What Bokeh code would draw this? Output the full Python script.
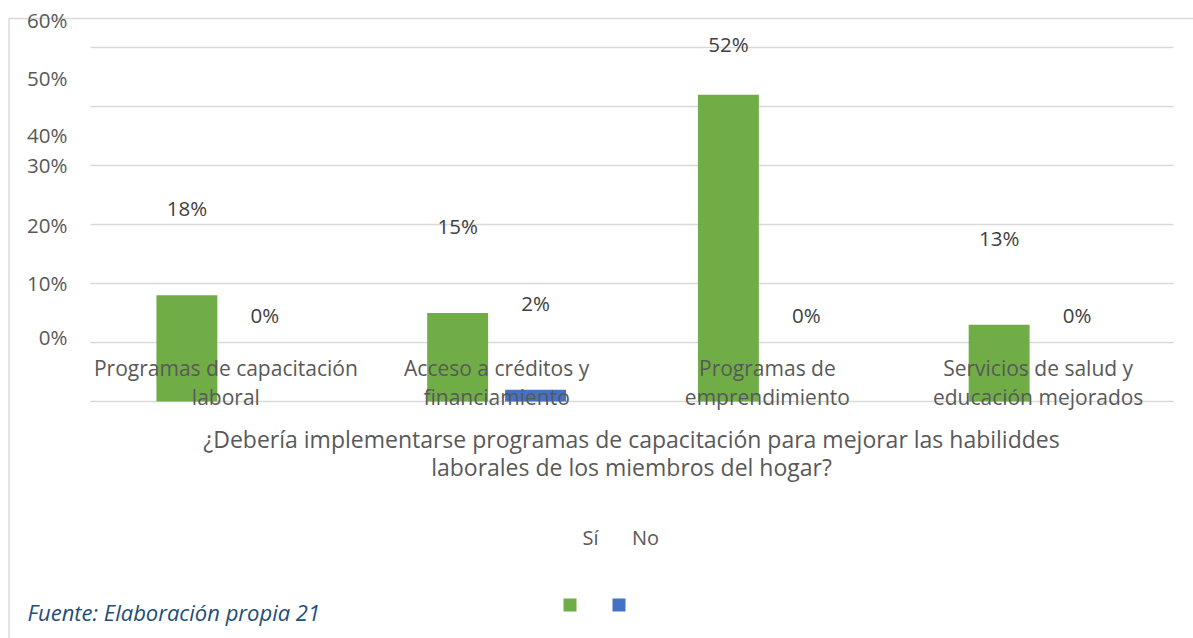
from bokeh.plotting import figure
from bokeh.models import Range1d
from bokeh.embed import file_html
from bokeh.resources import INLINE
from bokeh.core.properties import value

# ---------------- data ----------------
categories = [
    "Programas de capacitación\nlaboral",
    "Acceso a créditos y\nfinanciamiento",
    "Programas de\nemprendimiento",
    "Servicios de salud y\neducación mejorados",
]
si_values = [0.18, 0.15, 0.52, 0.13]
no_values = [0.00, 0.02, 0.00, 0.00]
series_names = ["Sí", "No"]
series_colors = ["#70AD47", "#4472C4"]
grid_values = [0.0, 0.1, 0.2, 0.3, 0.4, 0.5, 0.6]
y_tick_labels = ["0%", "10%", "20%", "30%", "40%", "50%", "60%"]
axis_title = [
    "¿Debería implementarse programas de capacitación para mejorar las habiliddes",
    "laborales de los miembros del hogar?",
]
source_note = "Fuente: Elaboración propia 21"

# ---------------- layout (page pixels) ----------------
W, H = 1193, 638
PAGE = 0
GL, GR = 90, 1173          # grid left/right
Y0, YT = 401, 47           # zero line / top gridline
n = len(categories)
CW = (GR - GL) / n
PPU = (Y0 - YT) / max(grid_values)
BAR_W = 0.225
DODGE = 0.144
FONT = "Open Sans"
TXT = "#595959"
LBL = "#404040"
GRID = "#D9D9D9"


def ux(px):
    return (px - GL) / CW


def vy(py):
    return (Y0 - py) / PPU


p = figure(
    width=W, height=H,
    x_range=Range1d(ux(PAGE), ux(PAGE + W)),
    y_range=Range1d(vy(PAGE + H), vy(PAGE)),
    x_axis_location=None, y_axis_location=None,
    toolbar_location=None, output_backend="svg",
    min_border=0, outline_line_color=None,
)
p.grid.visible = False
p.background_fill_color = "white"
p.border_fill_color = "white"

# outer chart border (left + top)
p.line(x=[ux(8.5), ux(8.5), ux(PAGE + W)], y=[vy(PAGE + H), vy(18), vy(18)],
       line_color=GRID, line_width=1.5)

# gridlines
p.segment(x0=[0] * len(grid_values), x1=[n] * len(grid_values),
          y0=grid_values, y1=grid_values, line_color=GRID, line_width=1.5)

# y tick labels (as placed in the original chart)
tick_label_py = [336, 282, 224, 164, 134, 77, 19]
p.text(x=[ux(67)] * len(y_tick_labels), y=[vy(v) for v in tick_label_py],
       text=y_tick_labels, text_align="right", text_baseline="middle",
       text_font=value(FONT), text_font_size="20.5px", text_color=TXT)

# bars
centers = [i + 0.5 for i in range(n)]
xs_si = [c - DODGE for c in centers]
xs_no = [c + DODGE for c in centers]
p.vbar(x=xs_si, top=si_values, bottom=0, width=BAR_W,
       fill_color=series_colors[0], line_color=None)
p.vbar(x=xs_no, top=no_values, bottom=0, width=BAR_W,
       fill_color=series_colors[1], line_color=None)

# data labels
LABEL_OFF = 87 / PPU
cap = vy(43)
for xs, vals in ((xs_si, si_values), (xs_no, no_values)):
    p.text(x=xs, y=[min(v + LABEL_OFF, cap) for v in vals],
           text=[f"{round(v * 100):d}%" for v in vals],
           text_align="center", text_baseline="middle",
           text_font=value(FONT), text_font_size="20.5px", text_color=LBL)

# category labels (two lines each)
line1 = [c.split("\n")[0] for c in categories]
line2 = [c.split("\n")[1] for c in categories]
p.text(x=centers, y=[vy(367)] * n, text=line1, text_align="center",
       text_baseline="middle", text_font=value(FONT), text_font_size="21px",
       text_color=TXT)
p.text(x=centers, y=[vy(396)] * n, text=line2, text_align="center",
       text_baseline="middle", text_font=value(FONT), text_font_size="21px",
       text_color=TXT)

# axis title
p.text(x=[ux(631)] * 2, y=[vy(438), vy(466)], text=axis_title,
       text_align="center", text_baseline="middle", text_font=value(FONT),
       text_font_size="23px", text_color=TXT)

# legend
p.text(x=[ux(590), ux(645)], y=[vy(537)] * 2, text=series_names,
       text_align="center", text_baseline="middle", text_font=value(FONT),
       text_font_size="20px", text_color=TXT)
p.scatter(x=[ux(569.5), ux(618.5)], y=[vy(604.5)] * 2, marker="square",
          size=13, fill_color=series_colors, line_color=None)

# source note
p.text(x=[ux(27)], y=[vy(611)], text=[source_note], text_align="left",
       text_baseline="middle", text_font=value(FONT), text_font_size="22px",
       text_font_style="italic", text_color="#1F4E79")

open("out.html", "w").write(file_html(p, INLINE))
